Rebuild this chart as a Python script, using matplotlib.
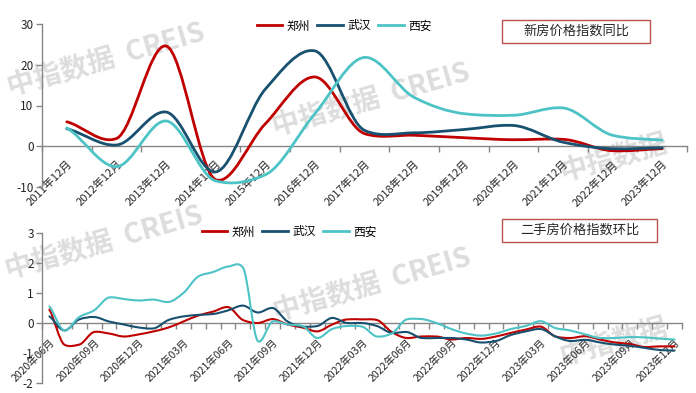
import matplotlib
matplotlib.use('Agg')
import matplotlib.pyplot as plt
from matplotlib.path import Path
from matplotlib.patches import PathPatch, Rectangle
from matplotlib.lines import Line2D
import numpy as np

plt.rcParams['font.family'] = ['Noto Sans CJK SC', 'DejaVu Sans']

# ---------------- data ----------------
series_names = ['郑州', '武汉', '西安']

yoy_labels = ['2011年12月', '2012年12月', '2013年12月', '2014年12月', '2015年12月',
              '2016年12月', '2017年12月', '2018年12月', '2019年12月', '2020年12月',
              '2021年12月', '2022年12月', '2023年12月']
zz_yoy = [6.0, 1.9, 24.6, -8.2, 5.5, 17.0, 3.1, 2.7, 2.1, 1.6, 1.7, -1.1, -0.6]
wh_yoy = [4.3, 0.3, 8.4, -6.3, 14.0, 23.4, 3.9, 3.3, 4.1, 5.1, 1.0, -0.6, -0.4]
xa_yoy = [4.5, -5.0, 6.2, -8.5, -7.0, 8.0, 21.8, 12.0, 8.0, 7.6, 9.4, 2.7, 1.5]

mom_tick_labels = ['2020年06月', '2020年09月', '2020年12月', '2021年03月', '2021年06月',
                   '2021年09月', '2021年12月', '2022年03月', '2022年06月', '2022年09月',
                   '2022年12月', '2023年03月', '2023年06月', '2023年09月', '2023年12月']
zz_mom = [0.45, -0.72, -0.72, -0.30, -0.35, -0.45, -0.38, -0.28, -0.15, 0.05,
          0.25, 0.38, 0.53, 0.10, 0.00, 0.13, -0.05, -0.15, -0.28, -0.05,
          0.12, 0.12, 0.10, -0.30, -0.50, -0.45, -0.45, -0.55, -0.50, -0.53,
          -0.45, -0.33, -0.22, -0.12, -0.45, -0.50, -0.44, -0.55, -0.65, -0.70,
          -0.80, -0.78, -0.78]
wh_mom = [0.22, -0.25, 0.12, 0.20, 0.05, -0.05, -0.15, -0.18, 0.10, 0.22,
          0.27, 0.30, 0.42, 0.58, 0.35, 0.50, 0.05, -0.12, -0.10, 0.17,
          0.00, 0.00, -0.10, -0.33, -0.30, -0.50, -0.50, -0.50, -0.55, -0.65,
          -0.60, -0.40, -0.28, -0.20, -0.45, -0.60, -0.56, -0.65, -0.72, -0.76,
          -0.83, -0.90, -0.92]
xa_mom = [0.55, -0.25, 0.20, 0.42, 0.85, 0.80, 0.75, 0.78, 0.70, 1.00,
          1.55, 1.70, 1.88, 1.85, -0.60, 0.05, -0.05, -0.10, -0.50, -0.20,
          -0.10, -0.12, -0.45, -0.35, 0.12, 0.13, 0.00, -0.20, -0.35, -0.42,
          -0.35, -0.20, -0.10, 0.06, -0.17, -0.25, -0.38, -0.50, -0.50, -0.47,
          -0.48, -0.52, -0.55]

colors = ['#C00000', '#18506F', '#4DC3C6']
axis_col = '#868686'
box_col = '#C0504D'


def smooth_path(x, y, blend=0.5):
    """Smoothed line through the data points (cubic Bezier segments whose
    tangents mix Catmull-Rom and monotone-cubic estimates)."""
    x = np.asarray(x, float)
    y = np.asarray(y, float)
    h = np.diff(x)
    d = np.diff(y) / h
    n = len(y)
    m_mono = np.zeros(n)
    m_cr = np.zeros(n)
    for i in range(1, n - 1):
        m_cr[i] = (y[i + 1] - y[i - 1]) / (x[i + 1] - x[i - 1])
        if d[i - 1] * d[i] > 0:
            w1 = 2 * h[i] + h[i - 1]
            w2 = h[i] + 2 * h[i - 1]
            m_mono[i] = (w1 + w2) / (w1 / d[i - 1] + w2 / d[i])
    m = blend * m_cr + (1 - blend) * m_mono
    m[0] = d[0] * 0.75
    m[-1] = d[-1] * 0.75
    verts = [(x[0], y[0])]
    codes = [Path.MOVETO]
    for i in range(n - 1):
        verts += [(x[i] + h[i] / 3, y[i] + m[i] * h[i] / 3),
                  (x[i + 1] - h[i] / 3, y[i + 1] - m[i + 1] * h[i] / 3),
                  (x[i + 1], y[i + 1])]
        codes += [Path.CURVE4] * 3
    return Path(verts, codes)


def setup(ax, n, ylim, yticks, lab_pos, labels, fs, pad):
    ax.set_xlim(-0.5, n - 0.5)
    ax.set_ylim(*ylim)
    ax.patch.set_alpha(0)
    for s in ['top', 'right']:
        ax.spines[s].set_visible(False)
    ax.spines['bottom'].set_position(('data', 0))
    for s in ['bottom', 'left']:
        ax.spines[s].set_color(axis_col)
        ax.spines[s].set_linewidth(1.0)
    ax.set_yticks(yticks)
    ax.set_yticklabels([str(t) for t in yticks])
    ax.set_xticks(lab_pos)
    ax.set_xticklabels(labels, rotation=45, ha='right', rotation_mode='anchor',
                       fontsize=fs, color='#262626')
    ax.set_xticks(np.arange(-0.5, n, 1.0), minor=True)
    ax.tick_params(axis='x', which='major', length=0, pad=pad)
    ax.tick_params(axis='x', which='minor', length=4, color=axis_col, width=1)
    ax.tick_params(axis='y', length=4, color=axis_col, width=1, labelsize=8.5,
                   labelcolor='#262626', pad=2)


W, H = 696, 393
fig = plt.figure(figsize=(W / 100, H / 100), dpi=100)

# watermarks
for (cx, cy, txt) in [(106, 60, '中指数据  CREIS'), (371, 100, '中指数据  CREIS'),
                      (614, 158, '中指数据'), (104, 243, '中指数据  CREIS'),
                      (372, 285, '中指数据  CREIS'), (614, 342, '中指数据')]:
    fig.text(cx / W, 1 - cy / H, txt, fontsize=20, fontweight='bold',
             color='#d2d2d2', alpha=0.75, rotation=16, ha='center', va='center',
             zorder=-5)

# ---------------- top chart ----------------
ax1 = fig.add_axes([42 / W, 1 - 187 / H, (687 - 42) / W, (187 - 24) / H])
n1 = len(yoy_labels)
x1 = np.arange(n1)
setup(ax1, n1, (-10, 30), [-10, 0, 10, 20, 30], x1, yoy_labels, 8, 9)
for vals, c in zip([zz_yoy, wh_yoy, xa_yoy], colors):
    ax1.add_patch(PathPatch(smooth_path(x1, vals), fill=False, edgecolor=c,
                            lw=2.0, capstyle='round', joinstyle='round', zorder=3))

handles = [Line2D([], [], color=c, lw=2.0) for c in colors]
fig.legend(handles, series_names, loc='center', bbox_to_anchor=(344 / W, 1 - 26 / H),
           ncol=3, frameon=False, fontsize=8.5, handlelength=2.2, handletextpad=0.35,
           columnspacing=0.6, borderpad=0)

# ---------------- bottom chart ----------------
ax2 = fig.add_axes([42 / W, 1 - 383 / H, (682 - 42) / W, (383 - 233) / H])
n2 = len(zz_mom)
x2 = np.arange(n2)
setup(ax2, n2, (-2, 3), [-2, -1, 0, 1, 2, 3], np.arange(0, n2, 3), mom_tick_labels, 7.5, 10)
for vals, c in zip([zz_mom, wh_mom, xa_mom], colors):
    ax2.add_patch(PathPatch(smooth_path(x2, vals), fill=False, edgecolor=c,
                            lw=1.5, capstyle='round', joinstyle='round', zorder=3))

fig.legend(handles, series_names, loc='center', bbox_to_anchor=(289 / W, 1 - 232 / H),
           ncol=3, frameon=False, fontsize=8.5, handlelength=2.2, handletextpad=0.35,
           columnspacing=0.6, borderpad=0)

# title boxes
for (x0, y0, x1b, y1b, txt) in [(502, 20, 650, 43, '新房价格指数同比'),
                                (502, 219, 657, 242, '二手房价格指数环比')]:
    fig.patches.append(Rectangle((x0 / W, 1 - y1b / H), (x1b - x0) / W, (y1b - y0) / H,
                                 transform=fig.transFigure, facecolor='white',
                                 edgecolor=box_col, lw=1.0, zorder=4))
    fig.text((x0 + x1b) / 2 / W, 1 - (y0 + y1b) / 2 / H, txt, fontsize=9.5,
             ha='center', va='center', color='#262626', zorder=5)

fig.savefig('out.png', dpi=100)
